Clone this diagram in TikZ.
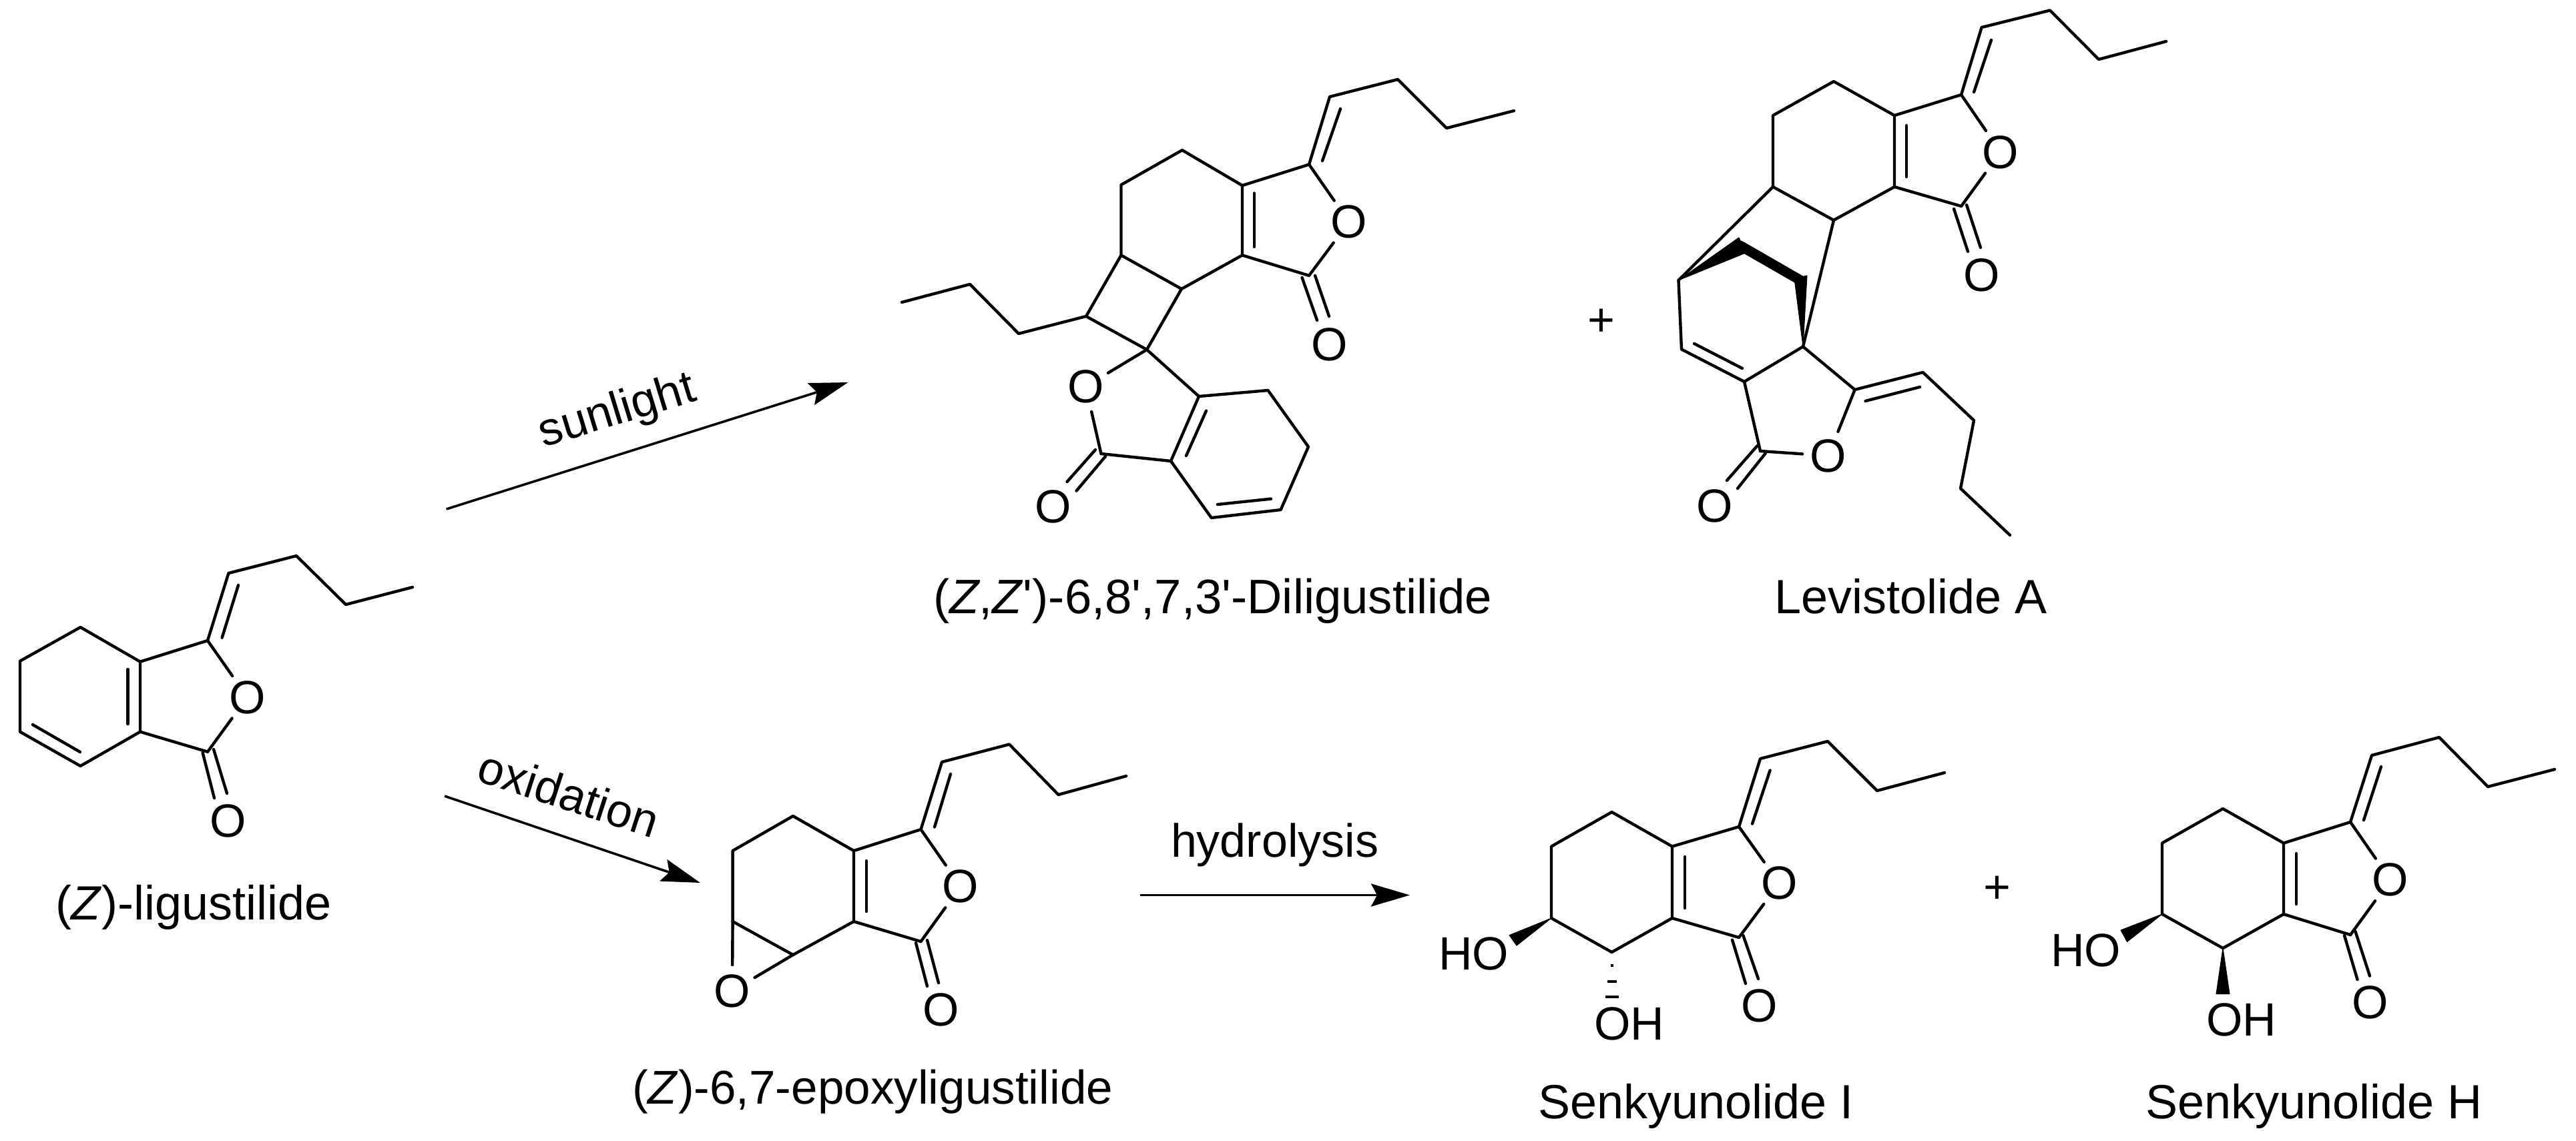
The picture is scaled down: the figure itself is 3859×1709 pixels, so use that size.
\documentclass[tikz,border=0pt]{standalone}
\usepackage{fontspec}
\setmainfont{Liberation Sans}
\newfontfamily\plainf{Liberation Sans}
\usetikzlibrary{arrows.meta}
\newcommand{\chemf}{\fontsize{70}{80}\selectfont}
\newcommand{\lblf}{\fontsize{72}{80}\selectfont}
\tikzset{
  bond/.style={line width=4.4pt,line cap=round,line join=round,black},
  atomlbl/.style={circle,inner sep=0pt,outer sep=0pt,minimum size=78pt,font=\chemf},
  txt/.style={inner sep=0pt,outer sep=0pt,anchor=base west,font=\chemf},
  namelbl/.style={inner sep=0pt,outer sep=0pt,anchor=base west,font=\lblf},
  rxn/.style={line width=3.6pt,black,-{Stealth[length=58pt,width=34pt,inset=9pt]}},
  wedgeb/.style={fill=black,draw=black,line width=1pt,line join=round},
  heavy/.style={line width=15pt,line cap=butt,line join=round,black},
}
\begin{document}
\begin{tikzpicture}[x=1pt,y=-1pt]
\useasboundingbox (0,0) rectangle (3859,1709);
% ---- (Z)-ligustilide
\coordinate (a1) at (120.5,940); \coordinate (a2) at (30,990.7); \coordinate (a3) at (30,1096.7);
\coordinate (a4) at (120.5,1148); \coordinate (a5) at (210,1096.7); \coordinate (a6) at (210,991.7);
\coordinate (a7) at (311,960); \coordinate (a8) at (342.4,859); \coordinate (a9) at (444,833);
\coordinate (a10) at (518,906); \coordinate (a11) at (618,880); \coordinate (a12) at (311,1126.7);
\node[atomlbl] (aO) at (370.5,1045) {O};
\node[atomlbl] (aOc) at (341.5,1230) {O};
\coordinate (a13) at (191.5,1003); \coordinate (a14) at (191.5,1085);
\coordinate (a15) at (49,1086); \coordinate (a16) at (120,1127);
\coordinate (a17) at (357,877); \coordinate (a18) at (332.6,955.7);
\coordinate (a19) at (303.6,1128); \coordinate (a20) at (321,1196);
\coordinate (a21) at (320,1123); \coordinate (a22) at (340,1189);
\draw[bond] (a6)--(a1)--(a2)--(a3)--(a4)--(a5)--(a6)--(a7)--(a8)--(a9)--(a10)--(a11);
\draw[bond] (a5)--(a12);
\draw[bond] (a7)--(aO); \draw[bond] (a12)--(aO);
\draw[bond] (a13)--(a14); \draw[bond] (a15)--(a16); \draw[bond] (a17)--(a18);
\draw[bond] (a19)--(a20); \draw[bond] (a21)--(a22);
\node[namelbl] (alab) at (83,1378) {(\textit{Z})-ligustilide};
% ---- Diligustilide
\coordinate (b1) at (2268,166); \coordinate (b2) at (2167,192); \coordinate (b3) at (2094,119);
\coordinate (b4) at (1992,145); \coordinate (b5) at (1961,246.5);
\coordinate (b6) at (2008,163); \coordinate (b7) at (1981,241);
\coordinate (b8) at (1861,278); \coordinate (b9) at (1771,225); \coordinate (b10) at (1679.5,277);
\coordinate (b11) at (1679.5,382.5); \coordinate (b12) at (1770,433); \coordinate (b13) at (1861,382.5);
\coordinate (b14) at (1961,413);
\node[atomlbl] (bO) at (2021,332.6) {O};
\node[atomlbl] (bOc) at (1992,516) {O};
\coordinate (b15) at (1950.5,416); \coordinate (b16) at (1973,480);
\coordinate (b17) at (1970,413); \coordinate (b18) at (1991,474);
\coordinate (b19) at (1879,289.5); \coordinate (b20) at (1879,370);
\coordinate (b21) at (1718,524); \coordinate (b22) at (1627,474);
\coordinate (b23) at (1526,500); \coordinate (b24) at (1453,426); \coordinate (b25) at (1351,453);
\node[atomlbl] (bO2) at (1626.5,579) {O};
\node[atomlbl] (bOc2) at (1577.4,759) {O};
\coordinate (b26) at (1649.5,680); \coordinate (b27) at (1754,691);
\coordinate (b28) at (1796,594); \coordinate (b29) at (1899.5,585); \coordinate (b30) at (1960,669.6);
\coordinate (b31) at (1918.6,764); \coordinate (b32) at (1814.7,776);
\coordinate (b33) at (1807,615.6); \coordinate (b34) at (1777,683);
\coordinate (b35) at (1904,747.6); \coordinate (b36) at (1824,756);
\coordinate (b37) at (1641,674); \coordinate (b38) at (1598.5,722);
\coordinate (b39) at (1656,684); \coordinate (b40) at (1612.5,735.6);
\draw[bond] (b1)--(b2)--(b3)--(b4)--(b5)--(b8)--(b9)--(b10)--(b11)--(b12)--(b13)--(b8);
\draw[bond] (b13)--(b14); \draw[bond] (b5)--(bO); \draw[bond] (b14)--(bO);
\draw[bond] (b6)--(b7); \draw[bond] (b15)--(b16); \draw[bond] (b17)--(b18); \draw[bond] (b19)--(b20);
\draw[bond] (b11)--(b22)--(b21)--(b12);
\draw[bond] (b22)--(b23)--(b24)--(b25);
\draw[bond] (b21)--(bO2); \draw[bond] (b26)--(bO2);
\draw[bond] (b26)--(b27)--(b28)--(b21);
\draw[bond] (b28)--(b29)--(b30)--(b31)--(b32)--(b27);
\draw[bond] (b33)--(b34); \draw[bond] (b35)--(b36); \draw[bond] (b37)--(b38); \draw[bond] (b39)--(b40);
\node[namelbl] (blab) at (1398,919) {\plainf\fontsize{72.5}{80}\selectfont(\textit{Z},\textit{Z}')-6,8',7,3'-Diligustilide};
% ---- Levistolide A
\coordinate (c1) at (3245,62); \coordinate (c2) at (3144,89); \coordinate (c3) at (3071,15.5);
\coordinate (c4) at (2968.6,41); \coordinate (c5) at (2938,142);
\coordinate (c6) at (2983,60); \coordinate (c7) at (2957,138);
\coordinate (c8) at (2838,173); \coordinate (c9) at (2747,122); \coordinate (c10) at (2656,173);
\coordinate (c11) at (2656,280); \coordinate (c12) at (2747,330); \coordinate (c13) at (2838,280);
\coordinate (c14) at (2856,188); \coordinate (c15) at (2856,265);
\coordinate (c16) at (2938,309);
\node[atomlbl] (cO) at (2997,228) {O};
\node[atomlbl] (cOc) at (2968.6,412) {O};
\coordinate (c17) at (2927,313); \coordinate (c18) at (2948,377);
\coordinate (c19) at (2946,307); \coordinate (c20) at (2967,371);
\coordinate (c21) at (2514.5,420); \coordinate (c22) at (2701,519.5);
\coordinate (c23) at (2605,356); \coordinate (c24) at (2615,379);
\coordinate (c25) at (2605,367); \coordinate (c26) at (2697,420);
\coordinate (c27) at (2688,417); \coordinate (c28) at (2707,413);
\coordinate (c29) at (2519,523.5); \coordinate (c30) at (2613,572);
\coordinate (c31) at (2538,515); \coordinate (c32) at (2610,552);
\coordinate (c33) at (2778.6,584); \coordinate (c34) at (2880.6,558);
\coordinate (c35) at (2794.5,601); \coordinate (c36) at (2876,580);
\coordinate (c37) at (2957,630); \coordinate (c38) at (2937,732); \coordinate (c39) at (3011,802);
\node[atomlbl] (cO2) at (2739,683) {O};
\node[atomlbl] (cOc2) at (2569,758) {O};
\coordinate (c40) at (2637,676);
\coordinate (c41) at (2632.5,668); \coordinate (c42) at (2587,720);
\coordinate (c43) at (2645,679); \coordinate (c44) at (2603,732);
\draw[bond] (c1)--(c2)--(c3)--(c4)--(c5)--(c8)--(c9)--(c10)--(c11)--(c12)--(c13)--(c8);
\draw[bond] (c13)--(c16); \draw[bond] (c5)--(cO); \draw[bond] (c16)--(cO);
\draw[bond] (c6)--(c7); \draw[bond] (c14)--(c15); \draw[bond] (c17)--(c18); \draw[bond] (c19)--(c20);
\draw[bond] (c11)--(c21); \draw[bond] (c12)--(c22);
\fill[wedgeb] (c21)--(c23)--(c24)--cycle;
\draw[heavy] (c25)--(c26);
\fill[wedgeb] (c22)--(c27)--(c28)--cycle;
\draw[bond] (c21)--(c29)--(c30)--(c22)--(c33)--(c34)--(c37)--(c38)--(c39);
\draw[bond] (c31)--(c32); \draw[bond] (c35)--(c36);
\draw[bond] (c33)--(cO2); \draw[bond] (c40)--(cO2); \draw[bond] (c30)--(c40);
\draw[bond] (c41)--(c42); \draw[bond] (c43)--(c44);
\node[font=\chemf,inner sep=0pt] (plus1) at (2399,483) {+};
\node[namelbl] (clab) at (2658,919) {Levistolide A};
% ---- epoxy
\coordinate (d1) at (1687,1163); \coordinate (d2) at (1585.5,1191); \coordinate (d3) at (1512,1115.5);
\coordinate (d4) at (1411,1142); \coordinate (d5) at (1379.5,1243);
\coordinate (d6) at (1424,1160); \coordinate (d7) at (1400,1239.5);
\coordinate (d8) at (1279,1275); \coordinate (d9) at (1188,1223); \coordinate (d10) at (1097.6,1275);
\coordinate (d11) at (1097.6,1381); \coordinate (d12) at (1188,1431); \coordinate (d13) at (1279,1381);
\coordinate (d14) at (1298,1290); \coordinate (d15) at (1298,1366);
\coordinate (d16) at (1379.5,1411);
\node[atomlbl] (dO) at (1439,1328.6) {O};
\node[atomlbl] (dOc) at (1410,1513) {O};
\node[atomlbl] (dOe) at (1097,1485) {O};
\coordinate (d17) at (1372,1413); \coordinate (d18) at (1389,1478);
\coordinate (d19) at (1389,1409); \coordinate (d20) at (1406,1473);
\draw[bond] (d1)--(d2)--(d3)--(d4)--(d5)--(d8)--(d9)--(d10)--(d11)--(d12)--(d13)--(d8);
\draw[bond] (d13)--(d16); \draw[bond] (d5)--(dO); \draw[bond] (d16)--(dO);
\draw[bond] (d6)--(d7); \draw[bond] (d14)--(d15); \draw[bond] (d17)--(d18); \draw[bond] (d19)--(d20);
\draw[bond] (d11)--(dOe); \draw[bond] (d12)--(dOe);
\node[namelbl] (dlab) at (947,1654) {\fontsize{71}{80}\selectfont(\textit{Z})-6,7-epoxyligustilide};
% ---- Senkyunolide I
\coordinate (e1) at (2913,1158); \coordinate (e2) at (2812,1185); \coordinate (e3) at (2738,1111);
\coordinate (e4) at (2637,1137); \coordinate (e5) at (2605,1239);
\coordinate (e6) at (2651.6,1154.5); \coordinate (e7) at (2625,1234.5);
\coordinate (e8) at (2505,1268.5); \coordinate (e9) at (2414.5,1217); \coordinate (e10) at (2324,1268.5);
\coordinate (e11) at (2324,1376); \coordinate (e12) at (2414.5,1427); \coordinate (e13) at (2505,1376);
\coordinate (e14) at (2524,1284); \coordinate (e15) at (2524,1361);
\coordinate (e16) at (2605,1405);
\node[atomlbl] (eO) at (2665.4,1323.6) {O};
\node[atomlbl] (eOc) at (2635.5,1507) {O};
\coordinate (e17) at (2595,1408.6); \coordinate (e18) at (2615,1474);
\coordinate (e19) at (2611.4,1402); \coordinate (e20) at (2634,1467);
\coordinate (e21) at (2261,1401.6); \coordinate (e22) at (2272,1417);
\coordinate (e23) at (2412.5,1447); \coordinate (e24) at (2416.5,1447);
\coordinate (e25) at (2407.5,1471); \coordinate (e26) at (2421.5,1471);
\coordinate (e27) at (2404.5,1494); \coordinate (e28) at (2424.5,1494);
\draw[bond] (e1)--(e2)--(e3)--(e4)--(e5)--(e8)--(e9)--(e10)--(e11)--(e12)--(e13)--(e8);
\draw[bond] (e13)--(e16); \draw[bond] (e5)--(eO); \draw[bond] (e16)--(eO);
\draw[bond] (e6)--(e7); \draw[bond] (e14)--(e15); \draw[bond] (e17)--(e18); \draw[bond] (e19)--(e20);
\fill[wedgeb] (e11)--(e21)--(e22)--cycle;
\draw[line width=4pt] (e23)--(e24); \draw[line width=4pt] (e25)--(e26); \draw[line width=4pt] (e27)--(e28);
\node[txt] (eHO) at (2155,1453) {HO};
\node[txt] (eOH) at (2388,1558) {OH};
\node[namelbl] (elab) at (2304,1676) {Senkyunolide I};
% ---- Senkyunolide H
\coordinate (f1) at (3827,1153); \coordinate (f2) at (3727,1179); \coordinate (f3) at (3654,1105);
\coordinate (f4) at (3553,1132); \coordinate (f5) at (3521,1232);
\coordinate (f6) at (3567,1149); \coordinate (f7) at (3541,1229);
\coordinate (f8) at (3421,1263.5); \coordinate (f9) at (3330,1212); \coordinate (f10) at (3239,1263.5);
\coordinate (f11) at (3239,1370); \coordinate (f12) at (3330,1421); \coordinate (f13) at (3421,1370);
\coordinate (f14) at (3440,1279); \coordinate (f15) at (3440,1355);
\coordinate (f16) at (3521,1401);
\node[atomlbl] (fO) at (3581,1318.6) {O};
\node[atomlbl] (fOc) at (3551,1502) {O};
\coordinate (f17) at (3512,1402); \coordinate (f18) at (3531.5,1468);
\coordinate (f19) at (3528.5,1396); \coordinate (f20) at (3550,1462.5);
\coordinate (f21) at (3177,1394); \coordinate (f22) at (3186.5,1411.5);
\coordinate (f23) at (3320,1489.5); \coordinate (f24) at (3340,1489.5);
\draw[bond] (f1)--(f2)--(f3)--(f4)--(f5)--(f8)--(f9)--(f10)--(f11)--(f12)--(f13)--(f8);
\draw[bond] (f13)--(f16); \draw[bond] (f5)--(fO); \draw[bond] (f16)--(fO);
\draw[bond] (f6)--(f7); \draw[bond] (f14)--(f15); \draw[bond] (f17)--(f18); \draw[bond] (f19)--(f20);
\fill[wedgeb] (f11)--(f21)--(f22)--cycle;
\fill[wedgeb] (f12)--(f23)--(f24)--cycle;
\node[font=\chemf,inner sep=0pt] (plus2) at (2992,1333) {+};
\node[txt] (fHO) at (3072,1448) {HO};
\node[txt] (fOH) at (3305,1552) {OH};
\node[namelbl] (flab) at (3214,1676) {Senkyunolide H};
% ---- arrows
\coordinate (s1) at (668.6,763); \coordinate (s2) at (1270.5,573);
\coordinate (x1) at (666,1193); \coordinate (x2) at (1049,1323);
\coordinate (h1) at (1708,1341.5); \coordinate (h2) at (2112,1341.5);
\draw[rxn] (s1)--(s2);
\draw[rxn] (x1)--(x2);
\draw[rxn] (h1)--(h2);
\node[font=\chemf,inner sep=0pt,rotate=17] (slab) at (925,618) {sunlight};
\node[font=\chemf,inner sep=0pt,rotate=-18] (xlab) at (852,1189) {oxidation};
\node[txt] (hlab) at (1754,1284) {hydrolysis};
\end{tikzpicture}
\end{document}
